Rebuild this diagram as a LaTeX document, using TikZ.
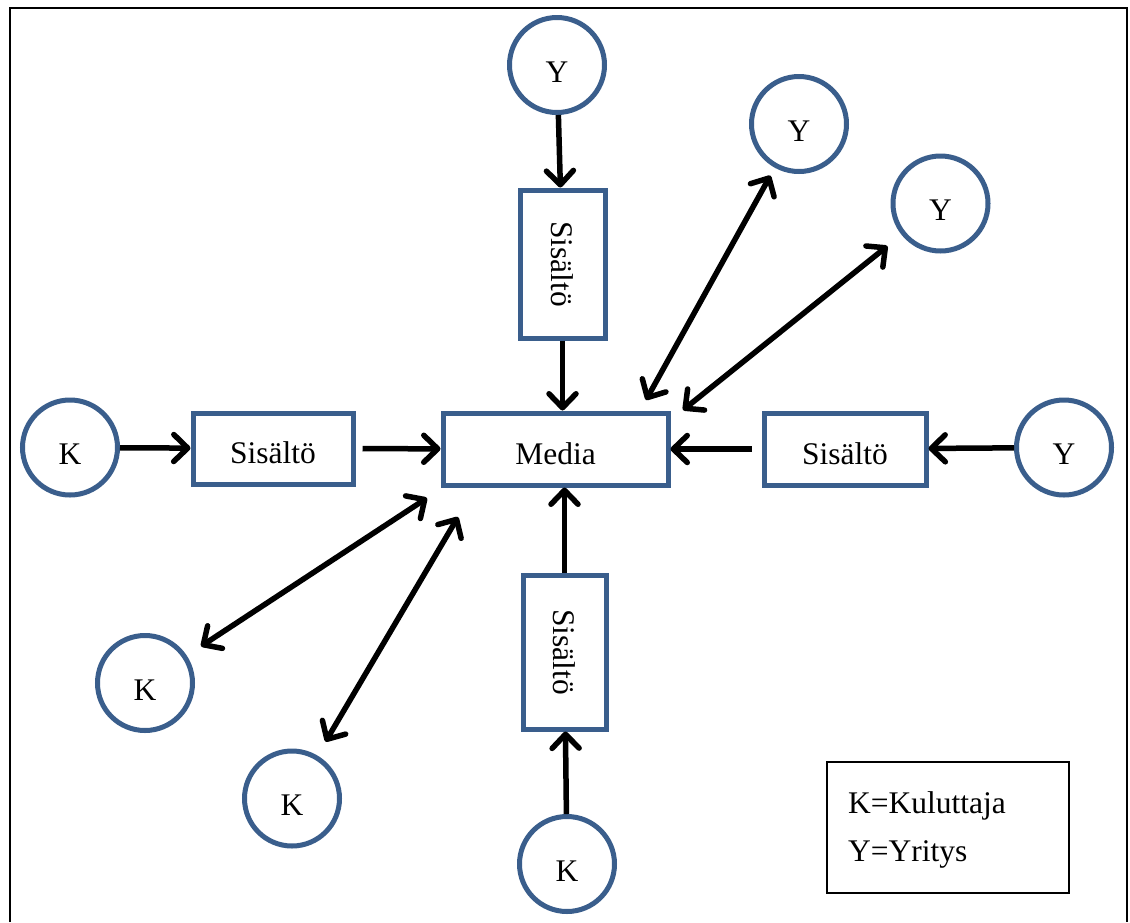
\documentclass[tikz,border=0pt]{standalone}
\usepackage{fontspec}
\setmainfont{Liberation Serif}
\usetikzlibrary{arrows.meta}
\definecolor{boxblue}{RGB}{58,94,140}
\newcommand{\bigtxt}{\fontsize{31.5}{37}\selectfont}
\begin{document}
\begin{tikzpicture}[x=1pt,y=-1pt,
  ent/.style={circle, draw=boxblue, line width=5pt, minimum size=95pt,
    inner sep=0pt, font=\bigtxt, text height=34pt, text depth=0pt},
  hbox/.style={rectangle, draw=boxblue, line width=5pt, inner sep=0pt,
    font=\bigtxt, text height=30pt, text depth=0pt},
  vbox/.style={rectangle, draw=boxblue, line width=5pt, inner sep=0pt,
    font=\bigtxt},
  flow/.style={line width=5.5pt, -{Straight Barb[length=14pt,width=27pt,round]}},
  both/.style={line width=5.5pt, {Straight Barb[length=14pt,width=27pt,round]}-{Straight Barb[length=14pt,width=27pt,round]}},
  legbox/.style={rectangle, draw=black, line width=1.3pt, minimum width=242pt, minimum height=131pt},
  legtxt/.style={anchor=base west, inner sep=0pt, font=\bigtxt}]
\useasboundingbox (0,0) rectangle (1130,922);
\fill[white] (0,0) rectangle (1130,922);

% outer frame (open at the bottom)
\draw[line width=2.5pt] (10,922) -- (10,8) -- (1127,8) -- (1127,922);

% centre and content boxes
\node[hbox, minimum width=225pt, minimum height=72pt] (m) at (555.5,449) {Media};
\node[hbox, minimum width=160pt, minimum height=71pt] (sL) at (273,448.5) {Sisältö};
\node[hbox, minimum width=162pt, minimum height=72pt] (sR) at (845,449) {Sisältö};
\node[vbox, minimum width=85pt, minimum height=148pt] (sT) at (562.5,264) {\rotatebox{-90}{Sisältö}};
\node[vbox, minimum width=83pt, minimum height=154pt] (sB) at (564.5,652) {\rotatebox{-90}{Sisältö}};

% companies (Y) and consumers (K)
\node[ent] (yT) at (557,65) {Y};
\node[ent] (y1) at (799,124) {Y};
\node[ent] (y2) at (940.5,203.5) {Y};
\node[ent] (yR) at (1064,447.5) {Y};
\node[ent] (kL) at (70,447.5) {K};
\node[ent] (k1) at (145,683) {K};
\node[ent] (k2) at (292,798.5) {K};
\node[ent] (kB) at (567,864) {K};

% one-way content flows
\draw[flow] (yT) -- (sT);
\draw[flow] (sT.south) -- (sT.south |- m.north);
\draw[flow] (kL) -- (sL);
\draw[flow, shorten <=7pt] (sL) -- (m);
\draw[flow] (yR) -- (sR);
\draw[flow, shorten <=10pt] (sR) -- (m);
\draw[flow] (kB) -- (sB);
\draw[flow] (sB.north) -- (sB.north |- m.south);

% two-way interaction with the media
\coordinate (d1) at (646,400);
\coordinate (d2) at (683,410);
\coordinate (d3) at (427,498);
\coordinate (d4) at (458,517);
\draw[both, shorten <=9pt] (y1) -- (d1);
\draw[both, shorten <=18pt] (y2) -- (d2);
\draw[both, shorten <=17pt] (k1) -- (d3);
\draw[both, shorten <=16pt] (k2) -- (d4);

% legend
\node[legbox] (leg) at (948,827.5) {};
\node[legtxt] (legK) at (848,813) {K=Kuluttaja};
\node[legtxt] (legY) at (848,861) {Y=Yritys};
\end{tikzpicture}
\end{document}
